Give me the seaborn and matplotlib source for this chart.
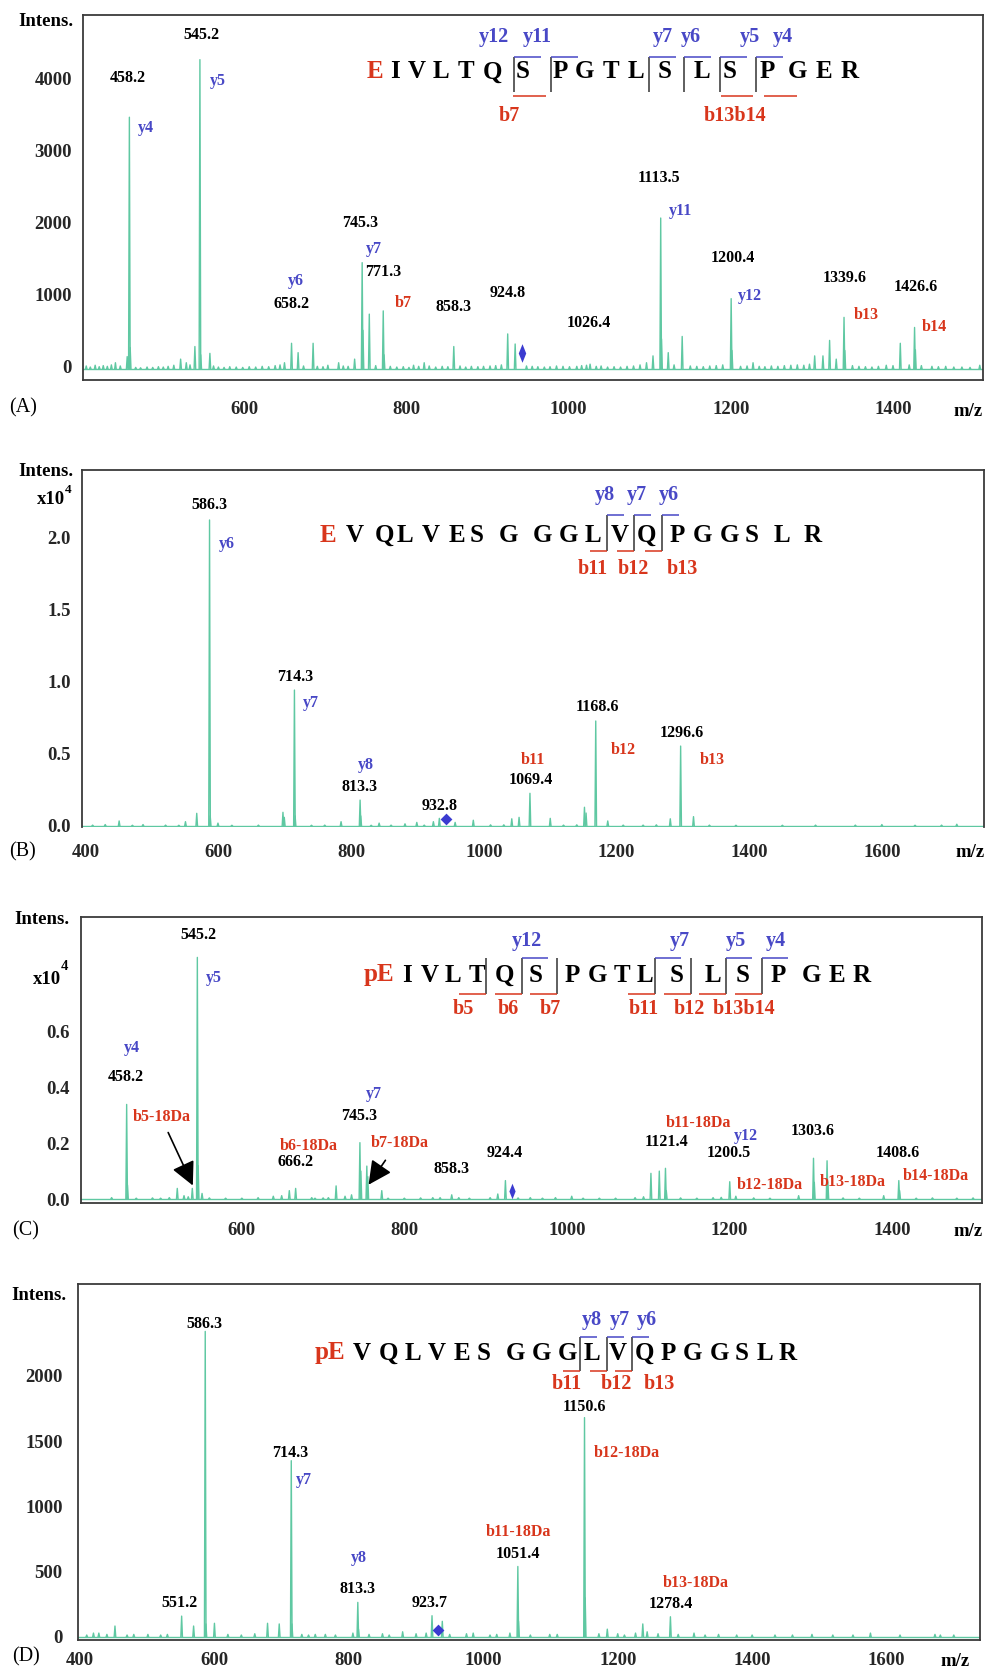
import matplotlib
matplotlib.use("Agg")
import matplotlib.pyplot as plt
from matplotlib.lines import Line2D
import pandas as pd
import seaborn as sns

sns.set_style("white")
plt.rcParams['font.family'] = ['Liberation Serif', 'DejaVu Serif']
plt.rcParams['font.weight'] = 'bold'

W, H = 985, 1672
GREEN = '#5fc8a2'
BLUE = '#4848c6'
RED = '#d8361c'
SPINE = '#3a3a3a'
THIN_DIAMOND = [(0, 1), (0.4, 0), (0, -1), (-0.4, 0), (0, 1)]

# ---------------- Panel A : EIVLTQSPGTLSLSPGER ----------------
a_mz = [441, 455.5, 458.2, 459.2, 521.4, 528.4, 539, 545.2, 546.2, 557.5,
        649.5, 658.2, 666.3, 684.8, 716.3, 736, 745.3, 746.3, 754.1, 771.3,
        772.3, 808.7, 821.8, 858.3, 924.8, 934, 1010, 1026.4, 1096, 1104,
        1113.5, 1114.5, 1122.8, 1140, 1200.4, 1201.4, 1227.4, 1303.4, 1313.6, 1321.8,
        1330, 1339.6, 1340.6, 1391.7, 1409, 1426.6, 1427.6, 1448, 1465, 1507]
a_int = [90, 175, 3500, 300, 140, 90, 315, 4300, 200, 220,
         90, 360, 230, 360, 90, 140, 1480, 540, 765, 810,
         200, 55, 90, 315, 490, 350, 40, 70, 90, 185,
         2100, 420, 230, 455, 980, 260, 90, 185, 185, 400,
         140, 720, 260, 55, 360, 580, 270, 40, 40, 55]
a_noise_mz = [405, 410, 416, 421, 426, 431, 436, 447, 466, 472, 480, 487, 494, 500, 506,
              513, 533, 562, 568, 575, 582, 590, 598, 606, 614, 622, 630, 638, 644, 673,
              690, 697, 703, 722, 728, 762, 780, 788, 796, 803, 815, 828, 836, 844, 851,
              866, 873, 880, 888, 895, 903, 910, 917, 948, 955, 962, 970, 977, 985, 993,
              1001, 1016, 1022, 1034, 1040, 1048, 1056, 1064, 1072, 1080, 1088, 1130, 1150,
              1158, 1166, 1174, 1182, 1190, 1212, 1220, 1235, 1242, 1250, 1258, 1266, 1274,
              1282, 1290, 1297, 1350, 1358, 1366, 1374, 1382, 1400, 1420, 1435, 1456, 1475,
              1485, 1495]
a_noise_int = [45, 30, 55, 35, 50, 40, 60, 45, 25, 20, 30, 25, 35, 30, 40,
               55, 60, 45, 30, 25, 35, 30, 25, 35, 30, 40, 35, 50, 60, 45,
               40, 35, 55, 45, 40, 50, 40, 30, 35, 25, 40, 45, 30, 40, 35,
               45, 30, 40, 35, 40, 45, 50, 60, 45, 40, 35, 30, 35, 45, 40,
               35, 50, 55, 40, 45, 30, 35, 30, 40, 45, 60, 60, 45,
               40, 35, 45, 50, 60, 40, 45, 40, 35, 45, 40, 50, 55,
               60, 55, 70, 50, 40, 35, 30, 40, 50, 60, 50, 35, 30,
               30, 25]
a_labeled = [458.2, 545.2, 745.3, 771.3, 658.2, 858.3, 924.8, 1026.4, 1113.5, 1200.4, 1339.6, 1426.6]
a_ions = ['y4', 'y5', 'y7', 'y6', 'b7', 'y11', 'y12', 'b13', 'b14']
a_precursor = (943, 185)

# ---------------- Panel B : EVQLVESGGGLVQPGGSLR ----------------
b_mz = [429, 450, 486, 550, 567, 586.3, 587.3, 599, 697, 699,
        714.3, 715.3, 784.6, 813.3, 814.3, 842, 881, 898.8, 923.8, 932.8,
        956.6, 984, 1042, 1053, 1069.4, 1100, 1151.6, 1154, 1168.6, 1186.7,
        1281, 1296.6, 1316, 1600, 1713]
b_int = [100, 350, 100, 300, 880, 21250, 700, 200, 950, 600,
         9440, 700, 300, 1800, 700, 200, 150, 250, 300, 530,
         250, 400, 500, 600, 2270, 530, 1300, 900, 7290, 350,
         500, 5550, 650, 100, 120]
b_noise_mz = [410, 470, 520, 540, 620, 660, 740, 760, 830, 860, 910, 1010, 1030,
              1120, 1140, 1210, 1240, 1260, 1340, 1380, 1450, 1500, 1560, 1650, 1690]
b_noise_int = [60, 50, 60, 50, 50, 60, 50, 60, 50, 60, 60, 80, 80,
               60, 80, 60, 60, 80, 60, 50, 50, 60, 60, 50, 60]
b_labeled = [586.3, 714.3, 813.3, 932.8, 1069.4, 1168.6, 1296.6]
b_ions = ['y6', 'y7', 'y8', 'b11', 'b12', 'b13']
b_precursor = (943, 465)

# ---------------- Panel C : pEIVLTQSPGTLSLSPGER ----------------
c_mz = [439.7, 458.2, 459.2, 510.7, 520.5, 528.8, 534, 539, 545.2, 546.2,
        551, 620, 638.7, 649, 658.4, 666.2, 686, 706.5, 716, 727,
        735, 745.3, 746.5, 753.8, 755, 772.2, 835, 844, 858.3, 867,
        905.6, 915, 924.4, 955, 986, 1006, 1084, 1094.4, 1103.5, 1113.8,
        1121.4, 1122.4, 1180, 1190, 1200.5, 1208, 1285.3, 1303.6, 1304.6, 1320.3,
        1321.3, 1390, 1408.6, 1409.6]
c_int = [50, 3390, 500, 50, 380, 120, 80, 380, 8660, 1200,
         200, 50, 100, 120, 300, 380, 50, 50, 470, 100,
         150, 2020, 1000, 1180, 800, 300, 50, 50, 150, 50,
         50, 180, 660, 50, 50, 100, 50, 80, 920, 1000,
         1100, 300, 50, 60, 620, 100, 120, 1460, 600, 1370,
         600, 120, 660, 300]
c_noise_mz = [470, 490, 500, 560, 580, 600, 690, 700, 780, 800, 820, 880, 940, 970,
              1020, 1040, 1060, 1140, 1160, 1230, 1250, 1340, 1360, 1430, 1450, 1480, 1500]
c_noise_int = [30, 40, 30, 40, 30, 30, 30, 40, 30, 30, 40, 30, 40, 30,
               30, 30, 30, 40, 30, 40, 30, 40, 30, 30, 40, 30, 40]
c_labeled = [545.2, 458.2, 745.3, 666.2, 858.3, 924.4, 1121.4, 1200.5, 1303.6, 1408.6]
c_ions = ['y5', 'y4', 'y7', 'y12', 'b5-18Da', 'b6-18Da', 'b7-18Da',
          'b11-18Da', 'b12-18Da', 'b13-18Da', 'b14-18Da']
c_precursor = (933, 300)

# ---------------- Panel D : pEVQLVESGGGLVQPGGSLR ----------------
d_mz = [420, 428, 452, 501, 551.2, 569, 586.3, 587.3, 600, 679,
        696.4, 714.3, 715.3, 730, 765, 806, 813.3, 814.3, 880, 900,
        915, 923.7, 939, 975, 985, 1039.6, 1051.4, 1052.4, 1098.9, 1150.6,
        1151.6, 1172, 1184.5, 1226.5, 1237.3, 1243.8, 1278.4, 1313.5, 1377, 1434,
        1489, 1576, 1672, 1680]
d_int = [30, 30, 84, 20, 160, 84, 2340, 100, 105, 105,
         100, 1350, 100, 20, 20, 30, 265, 60, 40, 25,
         30, 163, 120, 25, 30, 30, 540, 120, 20, 1680,
         300, 25, 60, 30, 100, 40, 155, 30, 15, 15,
         20, 30, 20, 15]
d_noise_mz = [410, 440, 470, 480, 520, 530, 620, 640, 660, 740, 750, 780, 830, 850, 860,
              950, 1010, 1020, 1070, 1110, 1200, 1210, 1260, 1290, 1330, 1350, 1400,
              1460, 1520, 1550, 1620, 1700]
d_noise_int = [15, 20, 15, 20, 15, 20, 20, 15, 25, 15, 20, 15, 20, 25, 15,
               20, 15, 20, 15, 20, 25, 15, 25, 20, 15, 20, 15,
               15, 15, 15, 15, 15]
d_labeled = [586.3, 714.3, 813.3, 551.2, 923.7, 1051.4, 1150.6, 1278.4]
d_ions = ['y7', 'y8', 'b11-18Da', 'b12-18Da', 'b13-18Da']
d_precursor = (933, 54)

# sequences (first entry is the N-terminal residue shown in red)
seq_a = ['E', 'I', 'V', 'L', 'T', 'Q', 'S', 'P', 'G', 'T', 'L', 'S', 'L', 'S', 'P', 'G', 'E', 'R']
seq_b = ['E', 'V', 'Q', 'L', 'V', 'E', 'S', 'G', 'G', 'G', 'L', 'V', 'Q', 'P', 'G', 'G', 'S', 'L', 'R']
seq_c = ['pE'] + seq_a[1:]
seq_d = ['pE'] + seq_b[1:]

# ---------------- figure ----------------
fig = plt.figure(figsize=(W / 100, H / 100), dpi=100)
fig.patch.set_facecolor('white')


def make_axes(left, right, top, bottom):
    return fig.add_axes([left / W, 1 - bottom / H, (right - left) / W, (bottom - top) / H])


def put(x, y, s, color='black', size=11.5, ha='center', va='center', weight='bold'):
    fig.text(x / W, 1 - y / H, s, color=color, fontsize=size, ha=ha, va=va, fontweight=weight)


def seg(x0, y0, x1, y1, color, lw=1.1):
    fig.add_artist(Line2D([x0 / W, x1 / W], [1 - y0 / H, 1 - y1 / H], color=color, lw=lw,
                          transform=fig.transFigure, solid_capstyle='butt'))


def spectrum(ax, mz, inten, noise_mz, noise_int, xlim, base, hw):
    rows = []
    all_mz = list(mz) + list(noise_mz)
    all_int = list(inten) + list(noise_int)
    for i, (m, h) in enumerate(zip(all_mz, all_int)):
        rows += [(i, m - hw, base), (i, m, base + h), (i, m + hw, base)]
    rows += [(-1, xlim[0], base), (-1, xlim[1], base)]
    df = pd.DataFrame(rows, columns=['peak', 'mz', 'intensity'])
    sns.lineplot(data=df, x='mz', y='intensity', units='peak', estimator=None,
                 color=GREEN, lw=1.0, ax=ax, legend=False)


def precursor(ax, p, marker, size):
    sns.scatterplot(x=[p[0]], y=[p[1]], marker=marker, s=size, color='#3b3bd0',
                    linewidth=0, ax=ax, legend=False, zorder=5)


def style(ax, xlim, ylim, xmaj, xmin, ymaj, ylab, ymin, xlen, xpad, ylen):
    ax.set_xlim(xlim)
    ax.set_ylim(ylim)
    ax.set_xticks(xmaj)
    ax.set_xticklabels([str(v) for v in xmaj])
    ax.set_xticks(xmin, minor=True)
    ax.set_yticks(ymaj)
    ax.set_yticklabels(ylab)
    ax.set_yticks(ymin, minor=True)
    ax.tick_params(axis='x', which='major', direction='out', length=xlen[0], width=1.3,
                   color=SPINE, pad=xpad, labelsize=13.5)
    ax.tick_params(axis='x', which='minor', direction='out', length=xlen[1], width=1.3, color=SPINE)
    ax.tick_params(axis='y', which='major', direction='out', length=ylen[0], width=1.2,
                   color=SPINE, pad=3, labelsize=13.5)
    ax.tick_params(axis='y', which='minor', direction='out', length=ylen[1], width=1.2, color=SPINE)
    for s in ax.spines.values():
        s.set_color(SPINE)
        s.set_linewidth(1.3)
    ax.set_xlabel('')
    ax.set_ylabel('')
    ax.set_facecolor('white')


def sequence(letters, xs, y):
    for i, (s, x) in enumerate(zip(letters, xs)):
        put(x, y, s, color=RED if i == 0 else 'black', size=18)


# ---- Panel A ----
axA = make_axes(83, 983, 15, 380)
A_XL = (401, 1511)
spectrum(axA, a_mz, a_int, a_noise_mz, a_noise_int, A_XL, -35, 1.0)
precursor(axA, a_precursor, THIN_DIAMOND, 180)
style(axA, A_XL, (-185, 4885), [600, 800, 1000, 1200, 1400], [500, 700, 900, 1100, 1300, 1500],
      [0, 1000, 2000, 3000, 4000], ['0', '1000', '2000', '3000', '4000'],
      list(range(0, 4801, 200)), (11, 7), 4, (5, 3))
put(73, 22, 'Intens.', size=13.5, ha='right')
put(968, 411, 'm/z', size=13.5)
put(23, 408, '(A)', size=14.5, weight='normal')
for v, (x, y) in zip(a_labeled, [(128, 78), (201, 35), (360, 223), (383, 272), (292, 304), (454, 307),
                                 (508, 293), (589, 323), (659, 178), (733, 258), (845, 278), (916, 287)]):
    put(x, y, f'{v:.1f}')
for s, (x, y) in zip(a_ions, [(146, 128), (218, 81), (374, 249), (296, 281), (403, 303),
                              (681, 211), (750, 296), (866, 315), (934, 327)]):
    put(x, y, s, color=RED if s.startswith('b') else BLUE)
sequence(seq_a, [375, 395, 417, 441, 466, 492, 523, 560, 584, 611, 636, 665, 702, 730, 767, 797, 824, 850], 72)
for xv in [514, 551, 649, 684, 720, 756]:
    seg(xv, 57, xv, 92, '#333333')
    seg(xv, 57, xv + 27, 57, BLUE)
for x0, x1 in [(513, 546), (721, 753), (764, 797)]:
    seg(x0, 96, x1, 96, RED)
for s, x in zip(['y12', 'y11', 'y7', 'y6', 'y5', 'y4'], [494, 537, 663, 691, 750, 783]):
    put(x, 37, s, color=BLUE, size=14.5)
for s, x in zip(['b7', 'b13b14'], [509, 735]):
    put(x, 116, s, color=RED, size=14.5)

# ---- Panel B ----
axB = make_axes(82, 984, 470, 827)
B_XL = (394, 1754)
spectrum(axB, b_mz, b_int, b_noise_mz, b_noise_int, B_XL, 0, 1.2)
precursor(axB, b_precursor, 'D', 36)
style(axB, B_XL, (-70, 24720), [400, 600, 800, 1000, 1200, 1400, 1600], [500, 700, 900, 1100, 1300, 1500, 1700],
      [0, 5000, 10000, 15000, 20000], ['0.0', '0.5', '1.0', '1.5', '2.0'],
      list(range(0, 24001, 1000)), (7, 4), 5, (5, 3))
axB.spines['bottom'].set_visible(False)
put(73, 472, 'Intens.', size=13.5, ha='right')
put(65, 500, 'x10', size=13.5, ha='right')
put(65, 490, '4', size=9.5, ha='left')
put(970, 853, 'm/z', size=13.5)
put(23, 852, '(B)', size=14.5, weight='normal')
for v, (x, y) in zip(b_labeled, [(209, 505), (295, 677), (360, 787), (440, 806), (531, 780), (597, 707), (682, 733)]):
    put(x, y, f'{v:.1f}')
for s, (x, y) in zip(b_ions, [(227, 544), (311, 703), (366, 765), (533, 760), (623, 750), (712, 760)]):
    put(x, y, s, color=RED if s.startswith('b') else BLUE)
sequence(seq_b, [328, 355, 384, 405, 431, 457, 477, 508, 542, 568, 593, 620, 646, 677, 702, 729, 752, 782, 813], 535)
for xv in [607, 634, 662]:
    seg(xv, 515, xv, 551, '#333333')
    seg(xv, 515, xv + 17, 515, BLUE)
    seg(xv - 17, 551, xv, 551, RED)
for s, x in zip(['y8', 'y7', 'y6'], [605, 637, 669]):
    put(x, 495, s, color=BLUE, size=14.5)
for s, x in zip(['b11', 'b12', 'b13'], [593, 633, 682]):
    put(x, 569, s, color=RED, size=14.5)

# ---- Panel C ----
axC = make_axes(81, 982, 917, 1203)
C_XL = (402, 1511)
spectrum(axC, c_mz, c_int, c_noise_mz, c_noise_int, C_XL, 0, 1.0)
precursor(axC, c_precursor, THIN_DIAMOND, 125)
style(axC, C_XL, (-143, 10108), [600, 800, 1000, 1200, 1400], [500, 700, 900, 1100, 1300, 1500],
      [0, 2000, 4000, 6000, 8000, 10000], ['0.0', '0.2', '0.4', '0.6', '', ''],
      list(range(0, 10001, 1000)), (11, 7), 2.5, (5, 3))
put(69, 920, 'Intens.', size=13.5, ha='right')
put(61, 979, 'x10', size=13.5, ha='right')
put(61, 967, '4', size=10.5, ha='left')
put(968, 1232, 'm/z', size=13.5)
put(26, 1231, '(C)', size=14.5, weight='normal')
for v, (x, y) in zip(c_labeled, [(198, 935), (126, 1077), (359, 1116), (296, 1162), (452, 1169), (505, 1153),
                                 (666, 1142), (729, 1153), (813, 1131), (898, 1153)]):
    put(x, y, f'{v:.1f}')
for s, (x, y) in zip(c_ions, [(214, 978), (132, 1048), (374, 1094), (746, 1136), (162, 1117), (309, 1146),
                              (400, 1143), (698, 1123), (770, 1185), (853, 1182), (936, 1176)]):
    put(x, y, s, color=RED if s.startswith('b') else BLUE)
for (x0, y0), (x1, y1) in [((167, 1130), (194, 1188)), ((387, 1158), (367, 1187))]:
    fig.add_artist(matplotlib.patches.FancyArrowPatch(
        (x0 / W, 1 - y0 / H), (x1 / W, 1 - y1 / H), transform=fig.transFigure,
        arrowstyle='-|>,head_length=0.9,head_width=0.45', mutation_scale=16, color='black', lw=1.2))
sequence(seq_c, [379, 407, 430, 453, 477, 505, 536, 572, 597, 622, 645, 677, 713, 743, 778, 811, 837, 862], 975)
for xv in [486, 522, 557, 655, 691, 726, 762]:
    seg(xv, 958, xv, 994, '#333333')
for xv in [522, 655, 726, 762]:
    seg(xv, 958, xv + 26, 958, BLUE)
for xv in [486, 522, 557, 655, 691, 726, 762]:
    seg(xv - 27, 994, xv, 994, RED)
for s, x in zip(['y12', 'y7', 'y5', 'y4'], [527, 680, 736, 776]):
    put(x, 941, s, color=BLUE, size=14.5)
for s, x in zip(['b5', 'b6', 'b7', 'b11', 'b12', 'b13b14'], [463, 508, 550, 644, 689, 744]):
    put(x, 1009, s, color=RED, size=14.5)

# ---- Panel D ----
axD = make_axes(78, 980, 1284, 1640)
D_XL = (397, 1739)
spectrum(axD, d_mz, d_int, d_noise_mz, d_noise_int, D_XL, 0, 1.2)
precursor(axD, d_precursor, 'D', 36)
style(axD, D_XL, (-23, 2703), [400, 600, 800, 1000, 1200, 1400, 1600], [500, 700, 900, 1100, 1300, 1500, 1700],
      [0, 500, 1000, 1500, 2000], ['0', '500', '1000', '1500', '2000'],
      list(range(0, 2601, 100)), (7, 4), 1.5, (8, 3))
put(66, 1295, 'Intens.', size=13.5, ha='right')
put(955, 1662, 'm/z', size=13.5)
put(26, 1657, '(D)', size=14.5, weight='normal')
for v, (x, y) in zip(d_labeled, [(204, 1324), (290, 1453), (357, 1589), (180, 1603), (430, 1603),
                                 (518, 1554), (584, 1407), (671, 1604)]):
    put(x, y, f'{v:.1f}')
for s, (x, y) in zip(d_ions, [(304, 1480), (359, 1558), (518, 1532), (627, 1453), (696, 1583)]):
    put(x, y, s, color=RED if s.startswith('b') else BLUE)
sequence(seq_d, [330, 362, 388, 413, 437, 462, 484, 515, 541, 567, 592, 618, 644, 668, 692, 719, 742, 765, 788], 1353)
for xv in [580, 607, 632]:
    seg(xv, 1337, xv, 1371, '#333333')
    seg(xv, 1337, xv + 17, 1337, BLUE)
    seg(xv - 17, 1371, xv, 1371, RED)
for s, x in zip(['y8', 'y7', 'y6'], [592, 620, 647]):
    put(x, 1320, s, color=BLUE, size=14.5)
for s, x in zip(['b11', 'b12', 'b13'], [567, 616, 659]):
    put(x, 1384, s, color=RED, size=14.5)

fig.savefig('out.png', dpi=100)
